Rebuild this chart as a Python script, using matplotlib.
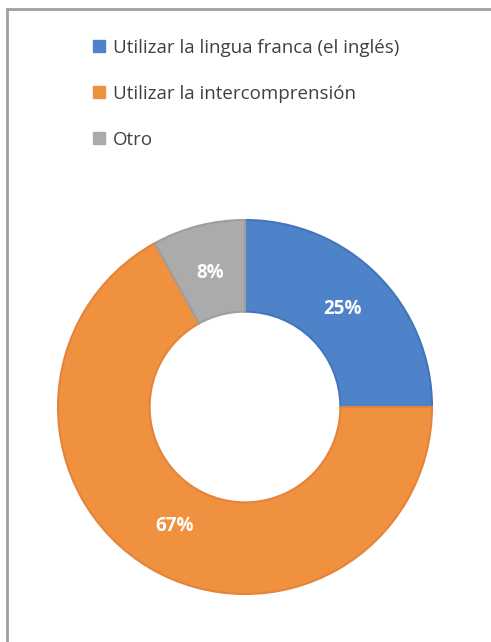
import matplotlib
matplotlib.use("Agg")
import matplotlib.pyplot as plt
from matplotlib.patches import Patch
from matplotlib.lines import Line2D

categories = ["Utilizar la lingua franca (el inglés)", "Utilizar la intercomprensión", "Otro"]
values = [25, 67, 8]
colors = ["#4E82C9", "#F0913F", "#ABABAB"]
edge_colors = ["#4474BC", "#E3843A", "#9E9E9E"]

W, H = 491, 642
fig = plt.figure(figsize=(W / 100, H / 100), dpi=100)
fig.patch.set_facecolor("white")

cx, cy, R = 245, 407, 187
ax = fig.add_axes([(cx - R) / W, (H - cy - R) / H, 2 * R / W, 2 * R / H])
wedges, texts, autotexts = ax.pie(
    values, colors=colors, startangle=90, counterclock=False,
    radius=1.0, autopct=lambda p: f"{p:.0f}%", pctdistance=0.74,
    wedgeprops=dict(width=0.49, linewidth=1.5),
    textprops=dict(color="white", fontsize=13.5, fontweight="bold", family="Open Sans"),
)
for w, ec in zip(wedges, edge_colors):
    w.set_edgecolor(ec)
ax.set_xlim(-1.0, 1.0)
ax.set_ylim(-1.0, 1.0)
ax.set_aspect("equal")
ax.axis("off")

handles = [Patch(facecolor=c, edgecolor=c) for c in colors]
leg = fig.legend(handles, categories, loc="upper left",
                 bbox_to_anchor=(76 / W, 1 - 22 / H), frameon=False,
                 handlelength=0.64, handleheight=0.64, handletextpad=0.43,
                 labelspacing=1.49, prop=dict(family="Open Sans", size=13.5))
for t in leg.get_texts():
    t.set_color("#404040")

fig.add_artist(Line2D([7 / W, 7 / W], [0, 1 - 9 / H], color="#A0A0A0", lw=2, transform=fig.transFigure))
fig.add_artist(Line2D([7 / W, 1], [1 - 9 / H, 1 - 9 / H], color="#A0A0A0", lw=2, transform=fig.transFigure))

fig.savefig("out.png", dpi=100)
